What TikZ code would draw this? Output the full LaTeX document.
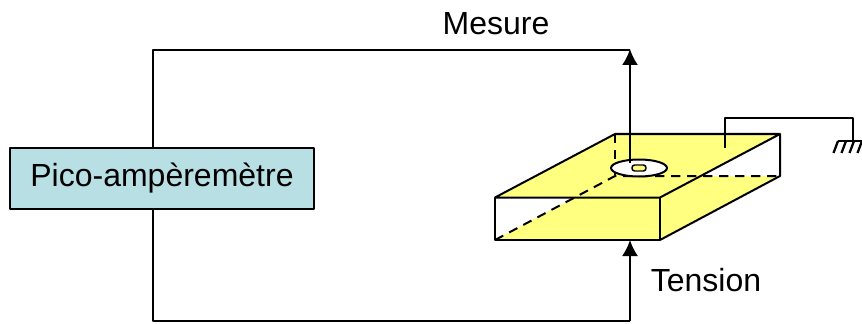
\documentclass[tikz,border=0pt]{standalone}
\usepackage{fontspec}
\setmainfont{Liberation Sans}
\usetikzlibrary{arrows.meta,positioning}
\definecolor{paleblue}{RGB}{184,223,227}
\definecolor{softyellow}{RGB}{255,255,128}

\begin{document}
\begin{tikzpicture}[x=0.75pt,y=-0.75pt,>={Latex[length=12pt,width=12pt]},line width=1.5pt,line join=round]
        \useasboundingbox (0,0) rectangle (862,324);
        % sample: top and bottom faces
        \fill[softyellow] (495,240) -- (660,240) -- (780,176) -- (615,176) -- cycle;
        \fill[softyellow] (495,197.5) -- (660,197.5) -- (780,134) -- (615,134) -- cycle;
        \draw[dashed,dash pattern=on 7pt off 5pt] (615,134) -- (615,176);
        \draw[dashed,dash pattern=on 7pt off 5pt] (495,240) -- (615,176) -- (780,176);
        \draw (495,197.5) -- (615,134) -- (780,134) -- (660,197.5) -- cycle;
        \draw (495,197.5) -- (495,240) -- (660,240) -- (660,197.5);
        \draw (660,240) -- (780,176) -- (780,134);
        % contact
        \draw[fill=white] (639,168) ellipse (28 and 8.5);
        \draw[fill=softyellow,line width=1.1pt,rounded corners=2pt] (632,165) rectangle (646,171);
        % meter and labels
        \node[draw,fill=paleblue,minimum width=228pt,minimum height=45.5pt,inner sep=0pt,
          font=\fontsize{24}{26}\selectfont] (meter) at (162,178.5) {Pico-ampèremètre};
        \node[font=\fontsize{24}{26}\selectfont] (mesure) at (496,24) {Mesure};
        \node[font=\fontsize{24}{26}\selectfont] (tension) at (706,280) {Tension};
        \coordinate (topcorner) at (153,50);
        \coordinate (toptip) at (630,49);
        \coordinate (contact) at (630,163);
        \coordinate (lowcorner) at (153,321);
        \coordinate (lowfoot) at (630,321);
        \coordinate (lowtip) at (630,240);
        \draw (153,148) -- (topcorner) -- (630,50);
        \draw[->] (contact) -- (toptip);
        \draw (153,209) -- (lowcorner) -- (lowfoot);
        \draw[->] (lowfoot) -- (lowtip);
        % earth
        \draw (724.5,148) -- (724.5,118) -- (853,118) -- (853,141);
        \draw (838,141) -- (862,141);
        \foreach \hx in {838,846,854,862}
          \draw[line width=1.7pt] (\hx,141) -- (\hx-4.5,153);
      \end{tikzpicture}
\end{document}
